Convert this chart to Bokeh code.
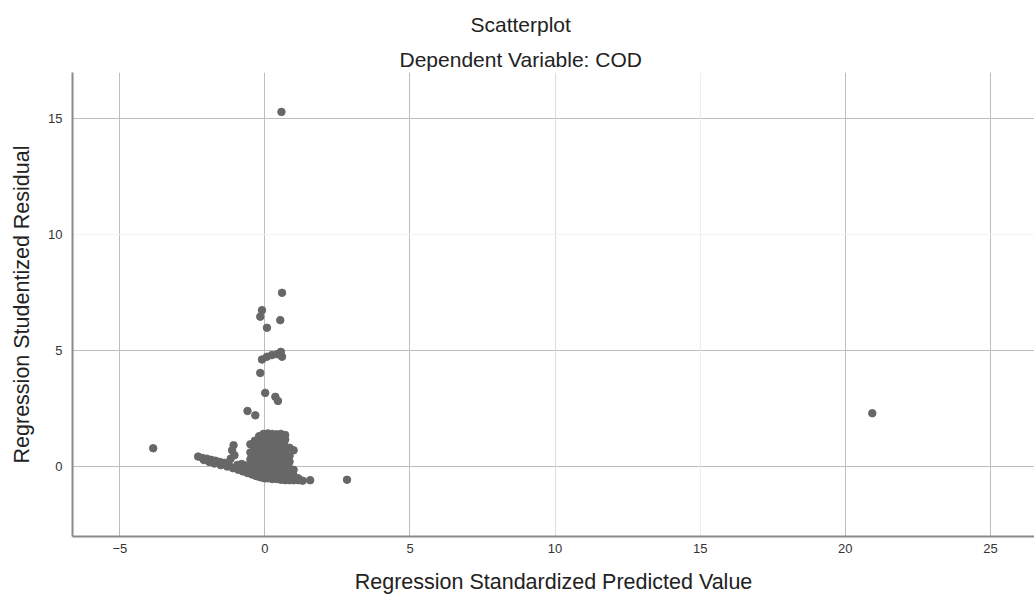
from bokeh.plotting import figure
from bokeh.models import FixedTicker, Grid, Title, Range1d, ColumnDataSource
from bokeh.embed import file_html
from bokeh.resources import INLINE

title_main = "Scatterplot"
title_sub = "Dependent Variable: COD"
x_label = "Regression Standardized Predicted Value"
y_label = "Regression Studentized Residual"
x_ticks = [-5, 0, 5, 10, 15, 20, 25]
y_ticks = [0, 5, 10, 15]

# Regression standardized predicted values (x) and studentized residuals (y)
pred = [
    # isolated / upper points
    0.57, 0.59, -0.10, -0.16, 0.53, 0.07, -0.10, 0.07, 0.24, 0.42, 0.55, 0.59,
    -0.16, 0.01, 0.36, 0.45, -0.60, -0.33, -3.85, 20.93, 1.56, 2.83, 0.99, -1.08, -1.13,
    # left tail
    -2.30, -2.15, -2.00, -1.85, -1.70, -1.55, -1.40, -1.25, -0.95, -0.80, -0.68,
    -2.10, -1.92, -1.74, -1.52, -1.30, -1.10, -0.92, -0.76, -0.60, -0.45, -0.30, -0.15, 0.00,
    -1.05, -1.18,
    # main cluster
    -0.50, -0.50, -0.50, -0.50, -0.50,
    -0.35, -0.35, -0.35, -0.35, -0.35, -0.35,
    -0.20, -0.20, -0.20, -0.20, -0.20, -0.20, -0.20,
    -0.05, -0.05, -0.05, -0.05, -0.05, -0.05, -0.05, -0.05,
    0.10, 0.10, 0.10, 0.10, 0.10, 0.10, 0.10, 0.10,
    0.25, 0.25, 0.25, 0.25, 0.25, 0.25, 0.25, 0.25,
    0.40, 0.40, 0.40, 0.40, 0.40, 0.40, 0.40, 0.40,
    0.55, 0.55, 0.55, 0.55, 0.55, 0.55, 0.55, 0.55,
    0.70, 0.70, 0.70, 0.70, 0.70, 0.70, 0.70, 0.70,
    0.85, 0.85, 0.85, 0.85, 0.85, 0.85,
    0.99, 0.99, 0.99,
    1.15, 1.15, 1.30,
]
resid = [
    15.30, 7.49, 6.74, 6.46, 6.31, 5.98, 4.61, 4.73, 4.80, 4.84, 4.94, 4.73,
    4.03, 3.17, 3.00, 2.82, 2.39, 2.20, 0.78, 2.29, -0.60, -0.58, 0.69, 0.91, 0.69,
    0.42, 0.36, 0.33, 0.28, 0.24, 0.19, 0.15, 0.11, 0.06, 0.10, 0.04,
    0.27, 0.19, 0.12, 0.05, -0.01, -0.08, -0.15, -0.22, -0.29, -0.35, -0.42, -0.47, -0.52,
    0.48, 0.33,
    -0.30, 0.00, 0.30, 0.60, 0.95,
    -0.38, -0.10, 0.20, 0.50, 0.80, 1.10,
    -0.45, -0.20, 0.10, 0.40, 0.70, 1.00, 1.30,
    -0.50, -0.25, 0.05, 0.35, 0.65, 0.95, 1.25, 1.40,
    -0.52, -0.30, 0.00, 0.30, 0.60, 0.90, 1.20, 1.42,
    -0.55, -0.30, 0.00, 0.30, 0.60, 0.90, 1.20, 1.40,
    -0.55, -0.30, 0.00, 0.30, 0.60, 0.90, 1.20, 1.38,
    -0.58, -0.30, 0.00, 0.30, 0.60, 0.90, 1.20, 1.40,
    -0.60, -0.35, -0.05, 0.25, 0.55, 0.85, 1.15, 1.35,
    -0.60, -0.35, -0.10, 0.20, 0.45, 0.80,
    -0.60, -0.40, -0.15,
    -0.60, -0.52, -0.62,
]

FONT = "Liberation Sans"

p = figure(width=1034, height=596, output_backend="svg", toolbar_location=None,
           x_range=Range1d(-6.63, 26.52), y_range=Range1d(-3.03, 17.0),
           min_border_left=72, min_border_right=0, min_border_top=72, min_border_bottom=59)
p.outline_line_color = None
p.background_fill_color = "white"

src = ColumnDataSource(dict(x=pred, y=resid))
p.scatter("x", "y", source=src, size=7.5, fill_color="#676767", line_color="#676767")

for ax in (p.xaxis[0], p.yaxis[0]):
    ax.axis_line_color = "#8a8a8a"
    ax.axis_line_width = 2
    ax.major_tick_line_color = None
    ax.minor_tick_line_color = None
    ax.major_tick_out = 0
    ax.major_tick_in = 0
    ax.major_label_text_font = FONT
    ax.major_label_text_font_size = "13px"
    ax.major_label_text_color = "#333333"
    ax.axis_label_text_font = FONT
    ax.axis_label_text_font_size = "21.5px"
    ax.axis_label_text_font_style = "normal"
    ax.axis_label_text_color = "#222222"

p.xaxis.ticker = FixedTicker(ticks=x_ticks)
p.yaxis.ticker = FixedTicker(ticks=y_ticks)
p.xaxis.axis_label = x_label
p.yaxis.axis_label = y_label
p.xaxis.major_label_standoff = 7
p.xaxis.axis_label_standoff = 14
p.yaxis.major_label_standoff = 10
p.yaxis.axis_label_standoff = 11

p.xgrid.ticker = FixedTicker(ticks=[-5, 0, 5, 20, 25])
p.xgrid.grid_line_color = "#bdbdbd"
p.ygrid.ticker = FixedTicker(ticks=[0, 5, 15])
p.ygrid.grid_line_color = "#bdbdbd"
p.add_layout(Grid(dimension=0, ticker=FixedTicker(ticks=[10]), grid_line_color="#dddddd"))
p.add_layout(Grid(dimension=0, ticker=FixedTicker(ticks=[15]), grid_line_color="#eeeeee"))
p.add_layout(Grid(dimension=1, ticker=FixedTicker(ticks=[10]), grid_line_color="#f2f2f2"))

p.title = Title(text=title_main, align="left", offset=398, standoff=15,
                text_font=FONT, text_font_size="21px", text_font_style="normal",
                text_color="#222222")
p.add_layout(Title(text=title_sub, align="left", offset=327, standoff=4,
                   text_font=FONT, text_font_size="21px", text_font_style="normal",
                   text_color="#222222"), "above")

open("out.html", "w").write(file_html(p, INLINE))
